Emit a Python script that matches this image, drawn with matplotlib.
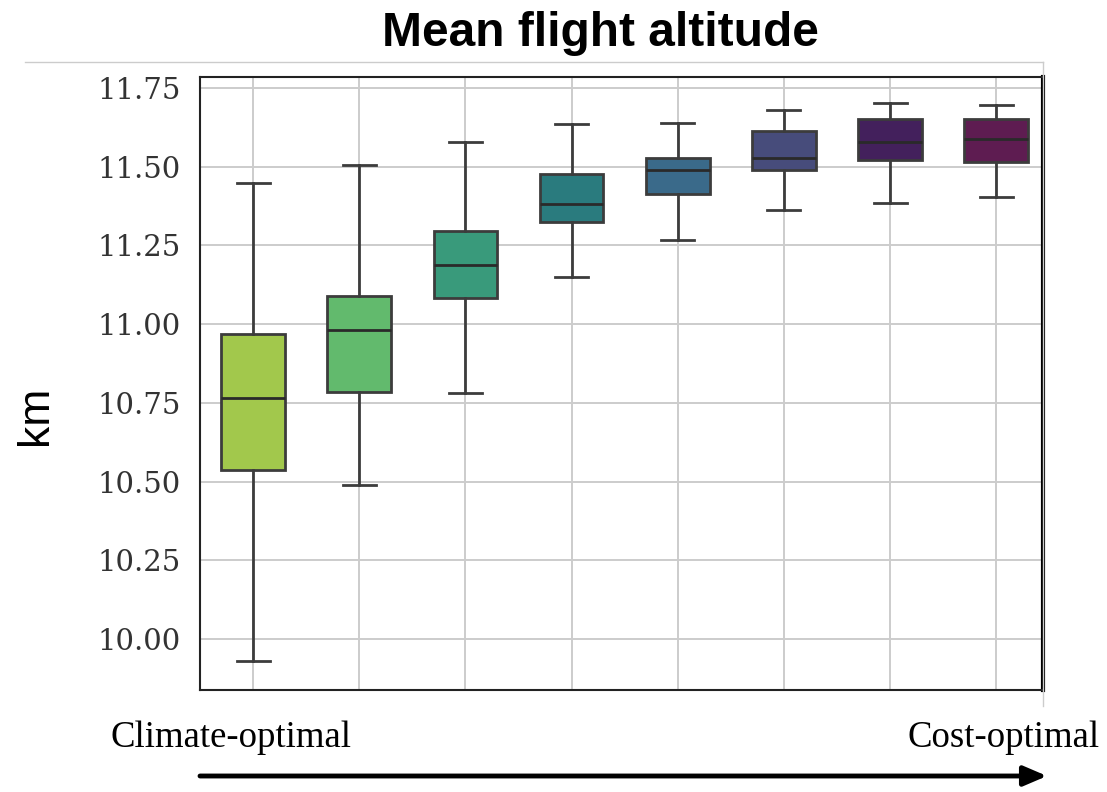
import matplotlib
matplotlib.use("Agg")
import matplotlib.pyplot as plt
from matplotlib.lines import Line2D

# values (km)
whislo = [9.930, 10.488, 10.782, 11.149, 11.267, 11.363, 11.386, 11.404]
q1 = [10.536, 10.783, 11.082, 11.323, 11.414, 11.489, 11.522, 11.515]
med = [10.765, 10.981, 11.189, 11.381, 11.489, 11.527, 11.578, 11.589]
q3 = [10.969, 11.091, 11.295, 11.476, 11.527, 11.612, 11.652, 11.651]
whishi = [11.448, 11.504, 11.578, 11.635, 11.640, 11.679, 11.702, 11.697]
colors = ['#a2c84c', '#62ba6d', '#399a7b', '#2a7b7e',
          '#3a6a8a', '#474c7b', '#43205c', '#5e1c51']
yticks = [10.00, 10.25, 10.50, 10.75, 11.00, 11.25, 11.50, 11.75]

fig = plt.figure(figsize=(11.07, 7.92), dpi=100)
ax = fig.add_axes([200 / 1107, 1 - 690 / 792, 843 / 1107, 613 / 792])

stats = []
for i in range(len(med)):
    stats.append({'whislo': whislo[i], 'q1': q1[i], 'med': med[i],
                  'q3': q3[i], 'whishi': whishi[i], 'fliers': []})

edge = '#3c3c3c'
bp = ax.bxp(stats, positions=range(len(med)), widths=0.6, capwidths=0.31,
            patch_artist=True, showfliers=False,
            boxprops=dict(edgecolor=edge, linewidth=2),
            whiskerprops=dict(color=edge, linewidth=2),
            capprops=dict(color=edge, linewidth=2),
            medianprops=dict(color='#2a2a2a', linewidth=2))
for patch, c in zip(bp['boxes'], colors):
    patch.set_facecolor(c)

ax.set_xlim(-0.5, 7.44)
ax.set_ylim(9.838, 11.785)
ax.set_yticks(yticks)
ax.set_yticklabels(['%.2f' % t for t in yticks], family='DejaVu Serif',
                   fontsize=21, color='#333333')
ax.set_xticks(range(len(med)))
ax.set_xticklabels([])
ax.tick_params(length=0, pad=14)
ax.grid(True, color='#cccccc', linewidth=1.4)
ax.set_axisbelow(True)
for s in ['left', 'bottom', 'top']:
    ax.spines[s].set_color('#222222')
    ax.spines[s].set_linewidth(1.5)
ax.spines['right'].set_color('black')
ax.spines['right'].set_linewidth(3)

fig.text(600 / 1107, 1 - 33 / 792, 'Mean flight altitude', ha='center',
         va='center', fontsize=34.5, fontweight='bold', family='Liberation Sans')
fig.text(35 / 1107, 1 - 415 / 792, 'km', rotation=90, ha='center',
         va='center', fontsize=32, family='Liberation Sans')
fig.text(110 / 1107, 1 - 738 / 792, 'Climate-optimal', ha='left',
         va='center', fontsize=26.5, family='Liberation Serif')
fig.text(1100 / 1107, 1 - 738 / 792, 'Cost-optimal', ha='right',
         va='center', fontsize=26.5, family='Liberation Serif')
fig.add_artist(Line2D([25 / 1107, 1043 / 1107], [1 - 62 / 792, 1 - 62 / 792],
                      color='#cccccc', linewidth=1))
fig.add_artist(Line2D([1043 / 1107, 1043 / 1107], [1 - 62 / 792, 1 - 706 / 792],
                      color='#cccccc', linewidth=1))

ax.annotate('', xy=(1047 / 1107, 1 - 776 / 792), xytext=(200 / 1107, 1 - 776 / 792),
            xycoords='figure fraction', textcoords='figure fraction',
            arrowprops=dict(arrowstyle='-|>,head_length=1.4,head_width=0.6',
                            color='black', linewidth=3.5, shrinkA=0, shrinkB=0))

fig.savefig('out.png', dpi=100)
